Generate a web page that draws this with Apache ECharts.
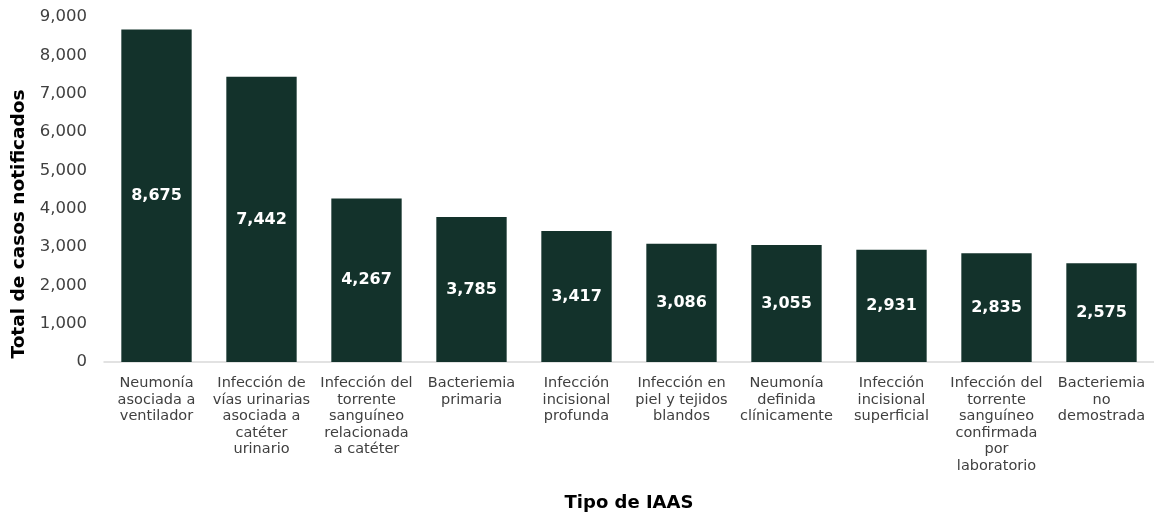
<!DOCTYPE html>
<html>
<head>
<meta charset="utf-8">
<script src="https://cdn.jsdelivr.net/npm/echarts@6/dist/echarts.min.js"></script>
<style>
  html, body { margin: 0; padding: 0; background: #fff; }
  #chart { width: 1154px; height: 514px; }
</style>
</head>
<body>
<div id="chart"></div>
<script>
// tipos de IAAS (con saltos de línea como en el original)
var categories = [
  'Neumonía\nasociada a\nventilador',
  'Infección de\nvías urinarias\nasociada a\ncatéter\nurinario',
  'Infección del\ntorrente\nsanguíneo\nrelacionada\na catéter',
  'Bacteriemia\nprimaria',
  'Infección\nincisional\nprofunda',
  'Infección en\npiel y tejidos\nblandos',
  'Neumonía\ndefinida\nclínicamente',
  'Infección\nincisional\nsuperficial',
  'Infección del\ntorrente\nsanguíneo\nconfirmada\npor\nlaboratorio',
  'Bacteriemia\nno\ndemostrada'
]
var casos = [8675, 7442, 4267, 3785, 3417, 3086, 3055, 2931, 2835, 2575]

var fontFam = '"DejaVu Sans", sans-serif'
var fmt = function (v) { return Number(v).toLocaleString('en-US') }

var chart = echarts.init(document.getElementById('chart'))
chart.setOption({
  animation: false,
  textStyle: { fontFamily: fontFam },
  grid: { left: 104, right: 0, top: 17, bottom: 152, containLabel: false, outerBoundsMode: 'none' },
  xAxis: {
    type: 'category',
    data: categories,
    name: 'Tipo de IAAS',
    nameLocation: 'middle',
    nameGap: 132,
    nameTextStyle: { fontSize: 18, fontWeight: 'bold', color: '#000' },
    axisLine: { lineStyle: { color: '#d9d9d9', width: 1.5 } },
    axisTick: { show: false },
    axisLabel: { interval: 0, fontSize: 14.5, lineHeight: 16.5, color: '#404040', margin: 13 }
  },
  yAxis: {
    type: 'value',
    min: 0,
    max: 9000,
    interval: 1000,
    name: 'Total de casos notificados',
    nameLocation: 'middle',
    nameRotate: 90,
    nameGap: 74,
    // desplaza el título hacia abajo como en el original
    nameTextStyle: { fontSize: 18.5, fontWeight: 'bold', color: '#000', padding: [0, 69, 0, 0] },
    splitLine: { show: false },
    axisLine: { show: false },
    axisTick: { show: false },
    axisLabel: { fontSize: 16.5, color: '#404040', margin: 17, formatter: fmt }
  },
  series: [{
    type: 'bar',
    data: casos,
    barCategoryGap: '33%',
    itemStyle: { color: '#13322b' },
    label: {
      show: true,
      position: 'inside',
      color: '#fff',
      fontSize: 16,
      fontWeight: 'bold',
      formatter: function (p) { return fmt(p.value) }
    }
  }]
})
</script>
</body>
</html>
